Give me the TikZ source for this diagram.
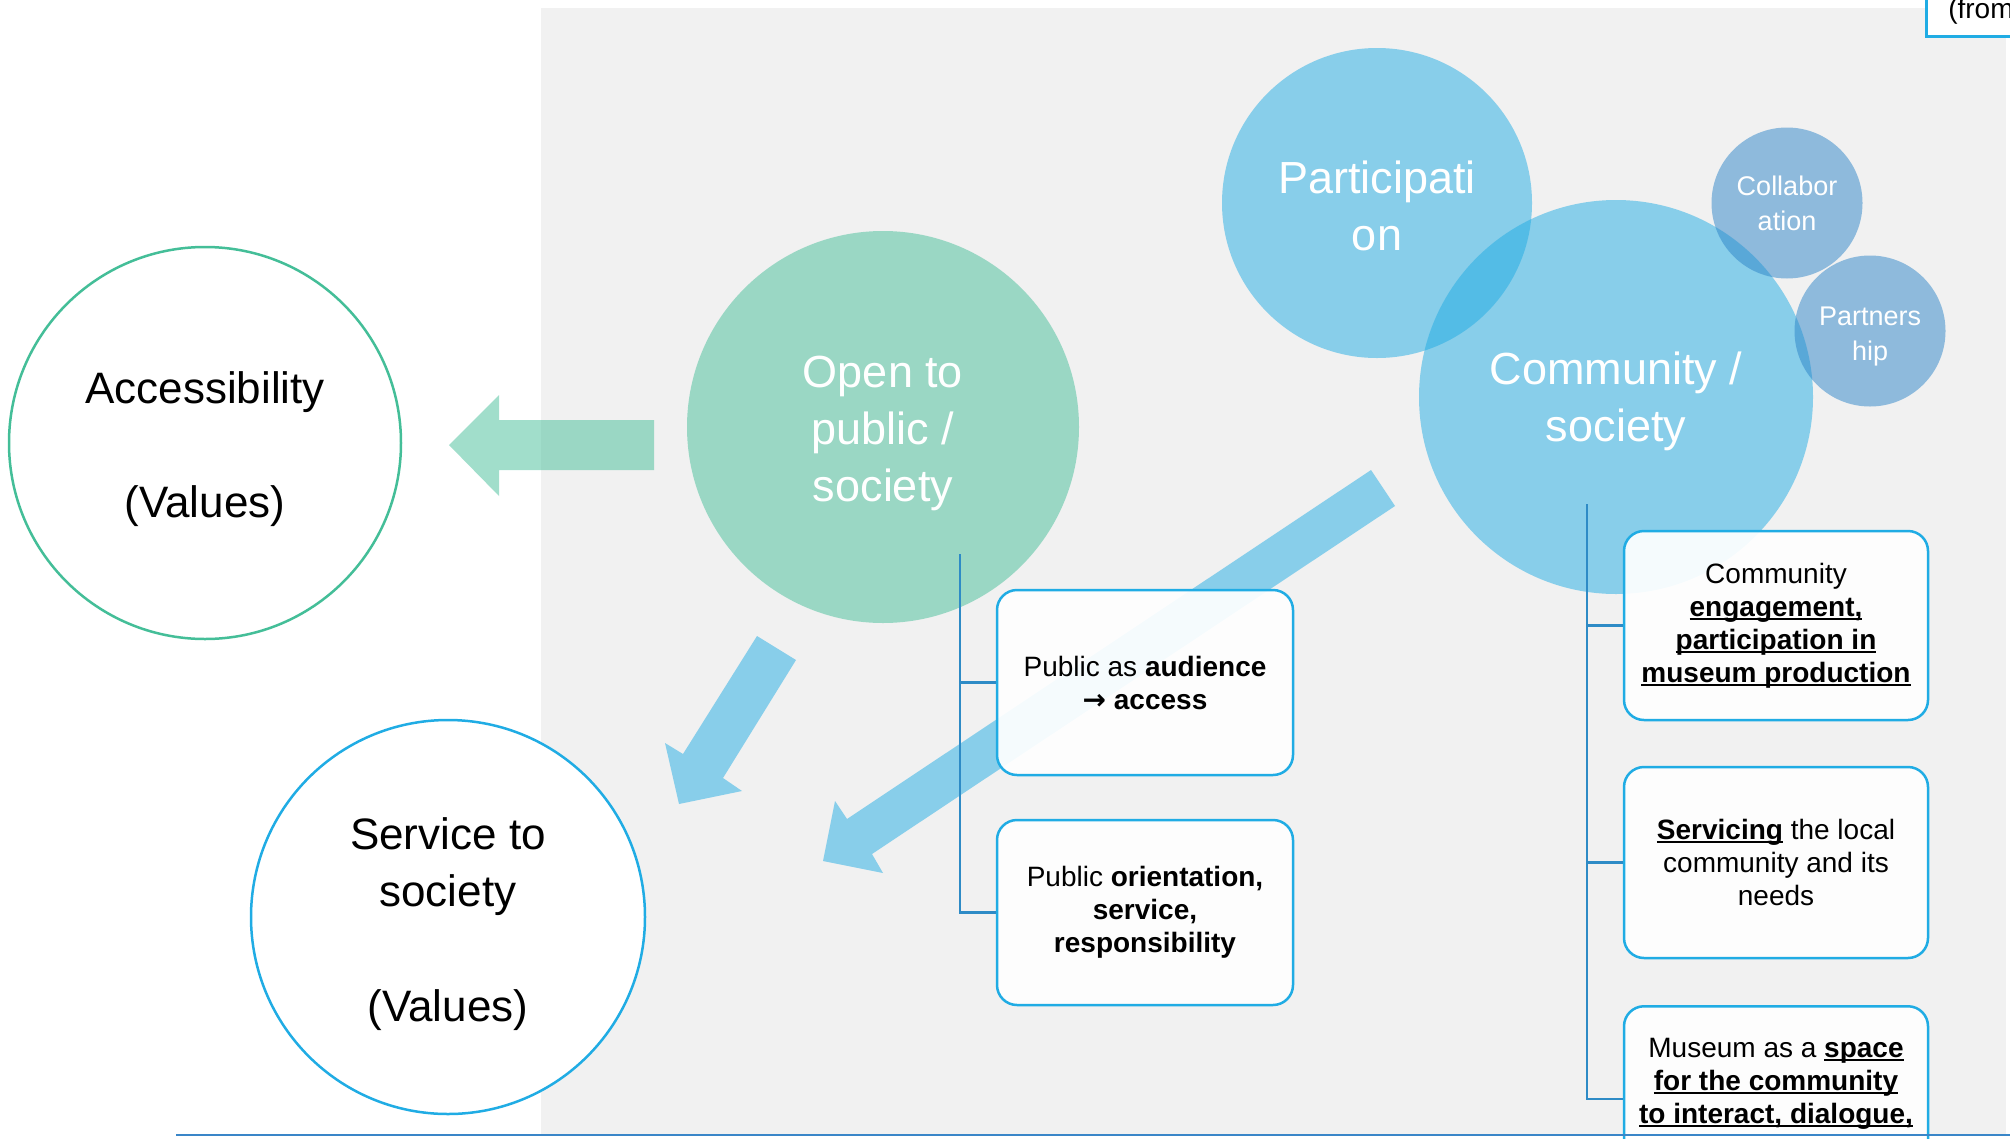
\documentclass[tikz,border=0pt]{standalone}
\usepackage{fontspec}
\setmainfont{Liberation Sans}
\newfontfamily\symfont{DejaVu Sans}
\usetikzlibrary{calc}
\definecolor{cyanb}{HTML}{20ACE4}
\definecolor{greenb}{HTML}{44BE98}
\definecolor{steelb}{HTML}{2C84C8}
\definecolor{linec}{HTML}{2E8BC6}
\definecolor{bgray}{HTML}{F1F1F1}
\definecolor{botline}{HTML}{3A86C8}
\newcommand\myul[1]{\setbox0\hbox{#1}\rlap{\rule[-3.5pt]{\wd0}{1.6pt}}\box0\relax}
\newcommand\hs[1]{\rule{0pt}{#1}}
\begin{document}
\begin{tikzpicture}[x=1pt,y=-1pt,
 bubble/.style={circle, inner sep=0pt, fill opacity=0.5, text opacity=1, text=white, align=center, font=\fontsize{45}{57}\selectfont},
 smallbubble/.style={bubble, fill=steelb, minimum size=151pt, font=\fontsize{27}{35}\selectfont},
 ring/.style={circle, inner sep=0pt, line width=2.5pt, fill=white, align=center, font=\fontsize{44}{57}\selectfont},
 rbox/.style={draw=cyanb, line width=2.5pt, rounded corners=20pt, fill=white, fill opacity=0.92, text opacity=1, minimum width=300pt, inner xsep=8pt, align=center, font=\fontsize{28}{33}\selectfont},
 conn/.style={draw=linec, line width=2.5pt},
 blockarrow/.style={fill opacity=0.5}
]
\useasboundingbox (0,0) rectangle (2010,1138);
\clip (0,0) rectangle (2010,1138);
\fill[bgray] (541,8) rectangle (2006,1135);

% value circles
\node[ring, draw=greenb, minimum size=392pt] (acc) at (205,443) {\hs{44.5pt}Accessibility\\[57pt](Values)};
\node[ring, draw=cyanb, minimum size=394pt] (serv) at (448,917) {\hs{46pt}Service to\\society\\[58pt](Values)};

% bubbles
\node[bubble, fill=greenb, minimum size=392pt] (open) at (883,427) {\hs{44pt}Open to\\public /\\society};
\node[bubble, fill=cyanb, minimum size=310pt] (part) at (1377,203) {\hs{38pt}Participati\\on};
\node[bubble, fill=cyanb, minimum size=394pt] (comm) at (1616,397) {\hs{42pt}Community /\\society};
\node[smallbubble] (coll) at (1787,203) {Collabor\\ation};
\node[smallbubble] (partn) at (1870,331) {\hs{29.5pt}Partners\\hip};

% block arrows
\fill[greenb, blockarrow] (654,420) -- (499,420) -- (499,395) -- (449,445) -- (499,496) -- (499,470) -- (654,470) -- cycle;
\fill[cyanb, blockarrow] (757,636) -- (796,660) -- (723,778) -- (742,791) -- (679,804) -- (665,743) -- (683,754) -- cycle;
\fill[cyanb, blockarrow] (1371,470) -- (1395,506) -- (872,854) -- (883,873) -- (823,861) -- (835,801) -- (847,819) -- cycle;

% boxes
\node[rbox, minimum width=296pt, minimum height=185pt] (b1) at (1145,682.5) {\raisebox{0pt}{Public as \textbf{audience}}\\{\symfont\bfseries →} \textbf{access}};
\node[rbox, minimum width=296pt, minimum height=185pt] (b2) at (1145,912.5) {Public \textbf{orientation,}\\\textbf{service,}\\\textbf{responsibility}};
\node[rbox, minimum width=304pt, minimum height=189pt] (b3) at (1776,625.5) {Community\\\myul{\textbf{engagement,}}\\\myul{\textbf{participation in}}\\\myul{\textbf{museum production}}};
\node[rbox, minimum width=304pt, minimum height=191pt] (b4) at (1776,862.5) {\myul{\textbf{Servicing}} the local\\community and its\\needs};
\node[rbox, minimum width=304pt, minimum height=0pt, anchor=north, text height=93pt, text depth=93pt, inner ysep=24pt] (b5) at (1776,1005) {Museum as a \myul{\textbf{space}}\\\myul{\textbf{for the community}}\\\myul{\textbf{to interact, dialogue,}}};

% connectors
\coordinate (lt) at (960,554);
\draw[conn] (lt) -- (lt |- b2.west) -- (b2.west);
\draw[conn] (lt |- b1.west) -- (b1.west);
\coordinate (rt) at (1587,504);
\coordinate (b5c) at ($(b5.north west)+(0,94)$);
\draw[conn] (rt) -- (rt |- b5c) -- (b5c);
\draw[conn] (rt |- b3.west) -- (b3.west);
\draw[conn] (rt |- b4.west) -- (b4.west);

% bottom rule and top-right box
\coordinate (bl) at (176,1135);
\coordinate (br) at (2010,1135);
\draw[botline, line width=2.5pt] (bl) -- (br);
\node[draw=cyanb, fill=white, line width=2.5pt, anchor=north west, inner xsep=22pt, inner ysep=0pt, text height=40pt, text depth=18pt, font=\fontsize{28}{33}\selectfont] (fromb) at (1925,-23) {(from};
\end{tikzpicture}
\end{document}
